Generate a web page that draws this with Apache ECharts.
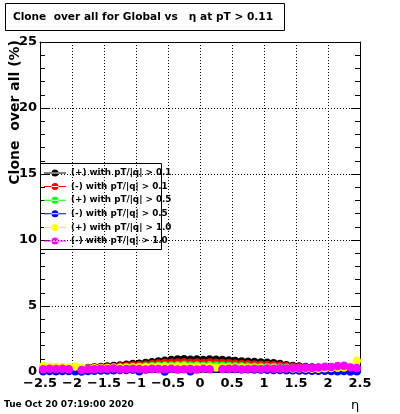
<!DOCTYPE html>
<html><head><meta charset="utf-8">
<script src="https://cdn.jsdelivr.net/npm/echarts@6/dist/echarts.min.js"></script>
<style>html,body{margin:0;padding:0;background:#fff}#c{width:400px;height:414px}</style>
</head><body><div id="c"></div>
<script>
const eta = [-2.45,-2.35,-2.25,-2.15,-2.05,-1.95,-1.85,-1.75,-1.65,-1.55,-1.45,-1.35,-1.25,-1.15,-1.05,-0.95,-0.85,-0.75,-0.65,-0.55,-0.45,-0.35,-0.25,-0.15,-0.05,0.05,0.15,0.25,0.35,0.45,0.55,0.65,0.75,0.85,0.95,1.05,1.15,1.25,1.35,1.45,1.55,1.65,1.75,1.85,1.95,2.05,2.15,2.25,2.35,2.45];
const posPt01 = [0.22,0.24,0.25,0.24,0.23,0.22,0.26,0.30,0.35,0.38,0.42,0.46,0.50,0.55,0.60,0.63,0.68,0.74,0.80,0.86,0.90,0.94,0.96,0.93,0.95,0.90,0.94,0.93,0.90,0.87,0.84,0.80,0.78,0.75,0.72,0.70,0.67,0.60,0.52,0.46,0.41,0.38,0.35,0.32,0.30,0.29,0.28,0.27,0.26,0.24];
const negPt01 = [0.20,0.21,0.22,0.21,0.20,0.20,0.22,0.26,0.30,0.32,0.35,0.38,0.42,0.46,0.50,0.52,0.55,0.60,0.64,0.68,0.70,0.72,0.74,0.70,0.72,0.68,0.72,0.70,0.68,0.66,0.63,0.60,0.58,0.56,0.55,0.53,0.52,0.48,0.43,0.40,0.36,0.33,0.31,0.29,0.27,0.26,0.25,0.24,0.23,0.22];
const posPt05 = [0.18,0.19,0.20,0.19,0.18,0.18,0.20,0.22,0.25,0.27,0.29,0.31,0.33,0.36,0.38,0.40,0.42,0.45,0.48,0.50,0.50,0.52,0.54,0.50,0.52,0.48,0.52,0.50,0.48,0.47,0.45,0.43,0.42,0.40,0.40,0.38,0.37,0.35,0.32,0.30,0.28,0.26,0.25,0.24,0.23,0.22,0.21,0.20,0.20,0.19];
const negPt05 = [0.05,0.08,0.06,0.07,0.08,0.05,0.04,0.08,0.10,0.12,0.12,0.14,0.15,0.16,0.18,0.05,0.20,0.22,0.22,0.04,0.25,0.26,0.27,0.06,0.25,0.24,0.26,0.25,0.24,0.23,0.22,0.21,0.20,0.19,0.18,0.17,0.16,0.15,0.14,0.13,0.12,0.11,0.10,0.10,0.09,0.08,0.05,0.08,0.03,0.06];
const posPt10 = [0.45,0.40,0.38,0.36,0.35,0.42,0.30,0.25,0.28,0.30,0.30,0.32,0.32,0.33,0.34,0.35,0.36,0.38,0.40,0.42,0.40,0.42,0.44,0.40,0.42,0.38,0.40,0.35,0.38,0.36,0.35,0.34,0.33,0.32,0.31,0.30,0.30,0.28,0.28,0.27,0.26,0.26,0.25,0.25,0.28,0.30,0.32,0.35,0.40,0.85];
const negPt10 = [0.20,0.25,0.22,0.24,0.20,null,0.15,0.22,0.20,0.24,0.22,0.26,0.20,0.23,0.25,0.22,0.18,0.24,0.22,0.20,0.25,0.18,0.20,0.22,0.18,0.24,0.20,null,0.22,0.24,0.26,0.20,0.23,0.25,0.22,0.26,0.24,0.28,0.26,0.30,0.28,0.32,0.30,0.35,0.40,0.38,0.45,0.48,0.35,0.30];
const seriesNames = ['(+) with pT/|q| > 0.1','(-) with pT/|q| > 0.1','(+) with pT/|q| > 0.5','(-) with pT/|q| > 0.5','(+) with pT/|q| > 1.0','(-) with pT/|q| > 1.0'];
const seriesColors = ['#000000','#ff0000','#00ff00','#0000ff','#ffff00','#ff00ff'];
const seriesValues = [posPt01, negPt01, posPt05, negPt05, posPt10, negPt10];
const titleText = 'Clone  over all for Global vs   \u03b7 at pT > 0.11';
const yTitle = 'Clone  over all (%)';
const xTitle = '\u03b7';
const dateText = 'Tue Oct 20 07:19:00 2020';

const F = 'DejaVu Sans';
const legendIcon = 'path://M0,3.5H22V4.5H0Z M7.5,4a3.5,3.5 0 1,0 7,0a3.5,3.5 0 1,0 -7,0Z';
const chart = echarts.init(document.getElementById('c'), null, {renderer:'canvas'});
const axisCommon = (ticks) => ({
  axisLine:{show:true, onZero:false, lineStyle:{color:'#000', width:1}},
  axisTick:{show:ticks, inside:true, length:9, lineStyle:{color:'#000'}},
  minorTick:{show:ticks, splitNumber:5, length:5, lineStyle:{color:'#000'}}
});
chart.setOption({
  animation:false,
  backgroundColor:'#fff',
  grid:{left:40, top:42, width:320, height:330, containLabel:false},
  xAxis:[
    Object.assign({type:'value', min:-2.5, max:2.5, interval:0.5, position:'bottom',
      axisLabel:{margin:5, fontFamily:F, fontWeight:'bold', fontSize:13, color:'#000',
        formatter:v => (v<0?'\u2212':'') + Math.abs(v)},
      splitLine:{show:true, lineStyle:{color:'#000', type:[1,2], width:1}}}, axisCommon(true)),
    Object.assign({type:'value', min:-2.5, max:2.5, interval:0.5, position:'top',
      axisLabel:{show:false}, splitLine:{show:false}}, axisCommon(false))
  ],
  yAxis:[
    Object.assign({type:'value', min:0, max:25, interval:5, position:'left',
      axisLabel:{margin:3, fontFamily:F, fontWeight:'bold', fontSize:13, color:'#000'},
      splitLine:{show:true, lineStyle:{color:'#000', type:[1,2], width:1}}}, axisCommon(true)),
    Object.assign({type:'value', min:0, max:25, interval:5, position:'right',
      axisLabel:{show:false}, splitLine:{show:false}}, axisCommon(true))
  ],
  legend:{
    orient:'vertical', left:44, top:168, itemWidth:22, itemHeight:8, itemGap:3.6,
    padding:0, icon:legendIcon,
    textStyle:{fontFamily:F, fontWeight:'bold', fontSize:8.8, color:'#000', lineHeight:10},
    data:seriesNames
  },
  series: seriesValues.map((vals, i) => ({
    name:seriesNames[i], type:'scatter', xAxisIndex:0, yAxisIndex:0,
    symbol:'circle', symbolSize:8.5,
    itemStyle:{color:seriesColors[i], opacity:1},
    data: eta.map((e, j) => [e, vals[j]]).filter(p => p[1] !== null)
  })),
  graphic:[
    {type:'rect', shape:{x:5.5, y:3.5, width:279, height:27}, style:{fill:'#fff', stroke:'#000', lineWidth:1}, z:10},
    {type:'text', x:143, y:17, style:{text:titleText, font:'bold 10.6px "DejaVu Sans"', fill:'#000', align:'center', verticalAlign:'middle'}, z:11},
    {type:'text', x:15, y:40, rotation:Math.PI/2, style:{text:yTitle, font:'bold 14px "DejaVu Sans"', fill:'#000', align:'right', verticalAlign:'middle'}, z:11},
    {type:'rect', shape:{x:40.5, y:163.5, width:121, height:86}, style:{fill:'rgba(0,0,0,0)', stroke:'#000', lineWidth:1}, z:1},
    {type:'text', x:4, y:405, style:{text:dateText, font:'bold 9px "DejaVu Sans"', fill:'#000', align:'left', verticalAlign:'middle'}, z:11},
    {type:'text', x:355, y:406, style:{text:xTitle, font:'13px "DejaVu Sans"', fill:'#000', align:'center', verticalAlign:'middle'}, z:11}
  ]
});
</script></body></html>
